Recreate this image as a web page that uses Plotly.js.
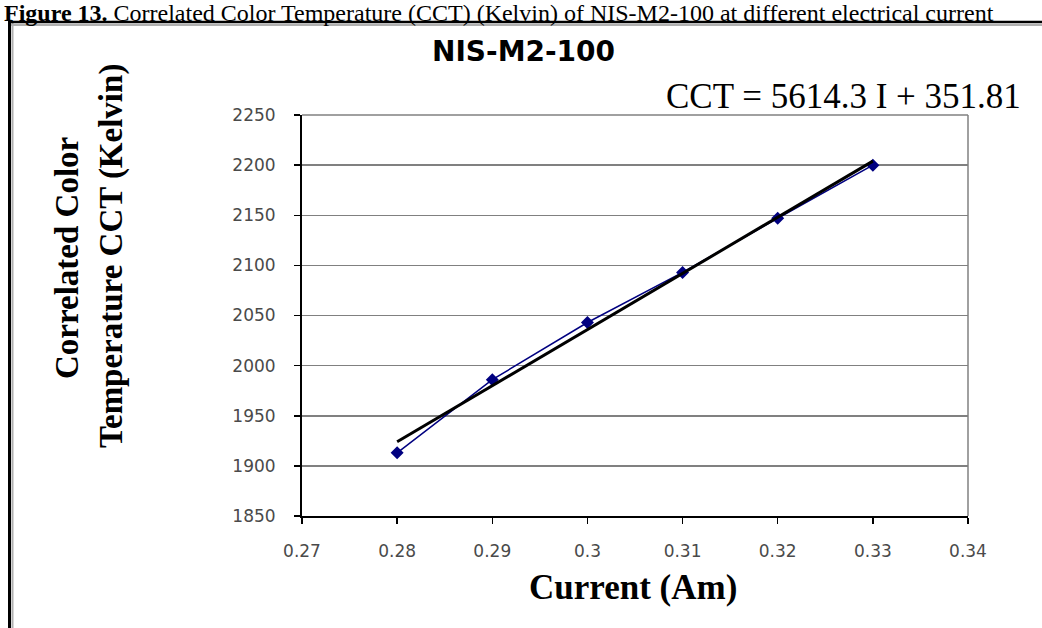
<!DOCTYPE html>
<html>
<head>
<meta charset="utf-8">
<script src="https://cdn.plot.ly/plotly-3.0.1.min.js"></script>
<style>
html,body{margin:0;padding:0;background:#fff;}
#chart{width:1042px;height:628px;}
</style>
</head>
<body>
<div id="chart"></div>
<script>
// Data
const currentA = [0.28, 0.29, 0.30, 0.31, 0.32, 0.33];
const cctKelvin = [1913, 1986, 2043, 2093, 2147, 2200];
const trendX = [0.28, 0.33];
const trendY = [1924, 2204];
const xTicks = [0.27, 0.28, 0.29, 0.30, 0.31, 0.32, 0.33, 0.34];
const xTickText = ['0.27', '0.28', '0.29', '0.3', '0.31', '0.32', '0.33', '0.34'];
const yTicks = [1850, 1900, 1950, 2000, 2050, 2100, 2150, 2200, 2250];

const W = 1042, H = 628;
const M = {l: 302, r: 74, t: 115, b: 112};
const pw = W - M.l - M.r, ph = H - M.t - M.b;
const px = v => (v - M.l) / pw;
const py = v => 1 - (v - M.t) / ph;

const tickFont = {family: 'DejaVu Sans, Arial, sans-serif', size: 17, color: '#4a4a4a'};
const serif = 'Liberation Serif, Times New Roman, serif';

const traces = [
  {
    x: currentA, y: cctKelvin, type: 'scatter', mode: 'lines+markers',
    line: {color: '#000080', width: 1.5},
    marker: {symbol: 'diamond', size: 10, color: '#000080'},
    showlegend: false, hoverinfo: 'x+y'
  },
  {
    x: trendX, y: trendY, type: 'scatter', mode: 'lines',
    line: {color: '#000000', width: 3},
    showlegend: false, hoverinfo: 'skip'
  }
];

const layout = {
  width: W, height: H,
  margin: M,
  paper_bgcolor: '#ffffff', plot_bgcolor: '#ffffff',
  showlegend: false,
  xaxis: {
    range: [0.27, 0.34], tickvals: xTicks, ticktext: xTickText,
    showgrid: false, zeroline: false,
    showline: true, linecolor: '#000000', linewidth: 2,
    ticks: 'outside', ticklen: 6, tickcolor: '#000000', tickwidth: 1.5,
    ticklabelstandoff: 13,
    tickfont: tickFont
  },
  yaxis: {
    range: [1850, 2250], tickvals: yTicks,
    showgrid: true, gridcolor: '#808080', gridwidth: 1.5,
    zeroline: false,
    showline: true, linecolor: '#000000', linewidth: 2,
    ticks: 'outside', ticklen: 6, tickcolor: '#000000', tickwidth: 1.5,
    ticklabelstandoff: 15,
    tickfont: tickFont
  },
  shapes: [
    {type: 'line', xref: 'paper', yref: 'paper', x0: 1, x1: 1, y0: 0, y1: 1,
     line: {color: '#808080', width: 1.5}},
    {type: 'line', xref: 'paper', yref: 'paper', x0: 0, x1: 1, y0: 1, y1: 1,
     line: {color: '#808080', width: 1.5}},
    {type: 'line', xref: 'paper', yref: 'paper', x0: px(9.5), x1: px(9.5), y0: py(21), y1: py(640),
     line: {color: '#000000', width: 3}},
    {type: 'line', xref: 'paper', yref: 'paper', x0: px(12.5), x1: px(12.5), y0: py(23), y1: py(640),
     line: {color: '#b0b0b0', width: 2}},
    {type: 'line', xref: 'paper', yref: 'paper', x0: px(8), x1: px(1050), y0: py(22), y1: py(22),
     line: {color: '#000000', width: 2.5}},
    {type: 'line', xref: 'paper', yref: 'paper', x0: px(11), x1: px(1050), y0: py(25), y1: py(25),
     line: {color: '#b0b0b0', width: 2}}
  ],
  annotations: [
    {text: '<b>Figure 13.</b> Correlated Color Temperature (CCT) (Kelvin) of NIS-M2-100 at different electrical current',
     xref: 'paper', yref: 'paper', x: px(2), y: py(-2), xanchor: 'left', yanchor: 'top',
     showarrow: false, font: {family: serif, size: 24, color: '#000000'}},
    {text: '<b>NIS-M2-100</b>', xref: 'paper', yref: 'paper', x: px(523), y: py(52),
     xanchor: 'center', yanchor: 'middle', showarrow: false,
     font: {family: 'DejaVu Sans, Arial, sans-serif', size: 28, color: '#000000'}},
    {text: 'CCT = 5614.3 I + 351.81', xref: 'paper', yref: 'paper', x: px(664), y: py(97),
     xanchor: 'left', yanchor: 'middle', showarrow: false,
     font: {family: serif, size: 35, color: '#000000'}},
    {text: '<b>Correlated Color</b>', xref: 'paper', yref: 'paper', x: px(67), y: py(258),
     xanchor: 'center', yanchor: 'middle', textangle: -90, showarrow: false,
     font: {family: serif, size: 33, color: '#000000'}},
    {text: '<b>Temperature CCT (Kelvin)</b>', xref: 'paper', yref: 'paper', x: px(111), y: py(256),
     xanchor: 'center', yanchor: 'middle', textangle: -90, showarrow: false,
     font: {family: serif, size: 33, color: '#000000'}},
    {text: '<b>Current (Am)</b>', xref: 'paper', yref: 'paper', x: px(633), y: py(587),
     xanchor: 'center', yanchor: 'middle', showarrow: false,
     font: {family: serif, size: 35, color: '#000000'}}
  ]
};

Plotly.newPlot('chart', traces, layout, {staticPlot: true, displayModeBar: false});
</script>
</body>
</html>
